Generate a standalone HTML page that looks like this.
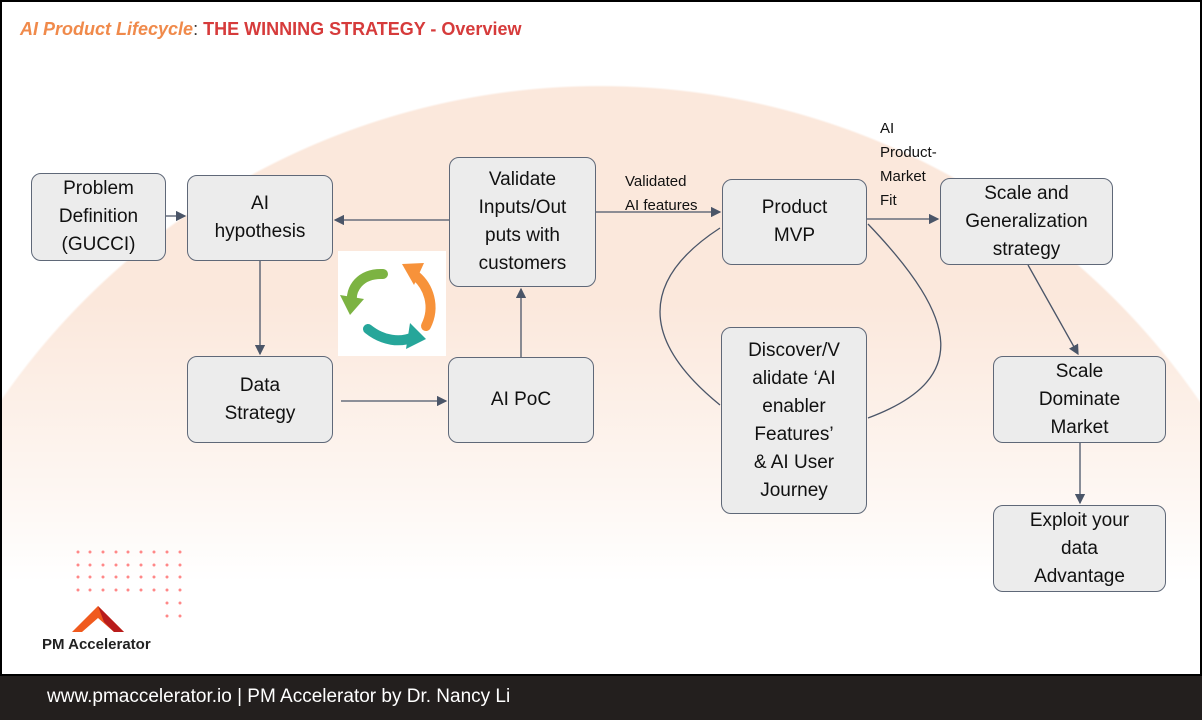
<!DOCTYPE html>
<html><head><meta charset="utf-8"><style>
html,body{margin:0;width:1202px;height:720px;overflow:hidden;background:#000;font-family:"Liberation Sans","Noto Sans CJK SC",sans-serif}
#f{position:absolute;left:2px;top:2px;width:1198px;height:672px;overflow:hidden;
background:
linear-gradient(rgba(255,255,255,0) 0px,rgba(255,255,255,0) 300px,rgba(255,255,255,0.6) 480px,#fff 580px),
radial-gradient(circle 729px at 598px 812px,#fbe8dc 99.7%,#fff 100%)}
.b{position:absolute;box-sizing:border-box;background:#ececec;border:1.5px solid #5f6878;border-radius:10px;display:flex;align-items:center;justify-content:center;text-align:center;font-size:19px;line-height:28px;color:#111}
.t{position:absolute;font-size:15px;line-height:24px;color:#111}
#ft{position:absolute;left:0;top:676px;width:1202px;height:44px;background:#231f1e;color:#fff;font-size:19px;line-height:42px;padding-left:47px;box-sizing:border-box}
</style></head><body>
<div id="f">
<div style="position:absolute;left:18px;top:17px;font-size:18px;font-weight:bold;color:#d63b3b"><i style="color:#f08a4b">AI Product Lifecycle</i><span style="color:#333;font-weight:normal">:</span> THE WINNING STRATEGY - Overview</div>
</div>
<svg style="position:absolute;left:0;top:0" width="1202" height="676">
<defs><marker id="a" markerWidth="8" markerHeight="8" refX="7" refY="4" orient="auto"><path d="M0,0L8,4L0,8z" fill="#4a5568"/></marker></defs>
<g stroke="#4a5568" stroke-width="1.3" fill="none">
<line x1="166" y1="216" x2="185" y2="216" marker-end="url(#a)"/>
<line x1="449" y1="220" x2="335" y2="220" marker-end="url(#a)"/>
<line x1="596" y1="212" x2="720" y2="212" marker-end="url(#a)"/>
<line x1="867" y1="219" x2="938" y2="219" marker-end="url(#a)"/>
<line x1="260" y1="261" x2="260" y2="354" marker-end="url(#a)"/>
<line x1="341" y1="401" x2="446" y2="401" marker-end="url(#a)"/>
<line x1="521" y1="357" x2="521" y2="289" marker-end="url(#a)"/>
<line x1="1028" y1="265" x2="1078" y2="354" marker-end="url(#a)"/>
<line x1="1080" y1="443" x2="1080" y2="503" marker-end="url(#a)"/>
<path d="M720,228 C640,280 640,340 720,405"/>
<path d="M868,224 C960,320 970,380 868,418"/>
</g>
<g transform="translate(338,251)">
<rect width="108" height="105" fill="#fff"/>
<path d="M45,23 C22,22 12,38 14,52" stroke="#7cb342" stroke-width="10" fill="none" stroke-linecap="round"/><path d="M2,44 L26,48 L12,64z" fill="#7cb342"/>
<path d="M88,75 C98,55 90,35 78,25" stroke="#f7923a" stroke-width="10" fill="none" stroke-linecap="round"/><path d="M64,13 L86,12 L76,34z" fill="#f7923a"/>
<path d="M30,78 C45,90 62,92 76,86" stroke="#26a69a" stroke-width="10" fill="none" stroke-linecap="round"/><path d="M72,72 L88,88 L68,98z" fill="#26a69a"/>
</g>
<g fill="#f88">
<circle cx="78" cy="552" r="1.5"/><circle cx="90" cy="552" r="1.5"/><circle cx="103" cy="552" r="1.5"/><circle cx="116" cy="552" r="1.5"/><circle cx="128" cy="552" r="1.5"/><circle cx="141" cy="552" r="1.5"/><circle cx="154" cy="552" r="1.5"/><circle cx="167" cy="552" r="1.5"/><circle cx="180" cy="552" r="1.5"/>
<circle cx="78" cy="565" r="1.5"/><circle cx="90" cy="565" r="1.5"/><circle cx="103" cy="565" r="1.5"/><circle cx="116" cy="565" r="1.5"/><circle cx="128" cy="565" r="1.5"/><circle cx="141" cy="565" r="1.5"/><circle cx="154" cy="565" r="1.5"/><circle cx="167" cy="565" r="1.5"/><circle cx="180" cy="565" r="1.5"/>
<circle cx="78" cy="577" r="1.5"/><circle cx="90" cy="577" r="1.5"/><circle cx="103" cy="577" r="1.5"/><circle cx="116" cy="577" r="1.5"/><circle cx="128" cy="577" r="1.5"/><circle cx="141" cy="577" r="1.5"/><circle cx="154" cy="577" r="1.5"/><circle cx="167" cy="577" r="1.5"/><circle cx="180" cy="577" r="1.5"/>
<circle cx="78" cy="590" r="1.5"/><circle cx="90" cy="590" r="1.5"/><circle cx="103" cy="590" r="1.5"/><circle cx="116" cy="590" r="1.5"/><circle cx="128" cy="590" r="1.5"/><circle cx="141" cy="590" r="1.5"/><circle cx="154" cy="590" r="1.5"/><circle cx="167" cy="590" r="1.5"/><circle cx="180" cy="590" r="1.5"/>
<circle cx="167" cy="603" r="1.5"/><circle cx="180" cy="603" r="1.5"/><circle cx="167" cy="616" r="1.5"/><circle cx="180" cy="616" r="1.5"/>
</g>
<path d="M72,632 L98,606 L124,632 L114,632 L98,618 L82,632z" fill="#f05a1e"/>
<path d="M98,606 L124,632 L114,632 L104,622z" fill="#b81c1c"/>
<text x="42" y="649" font-family="Liberation Sans,sans-serif" font-size="15" font-weight="bold" fill="#222">PM Accelerator</text>
</svg>
<div class="b" style="left:31px;top:173px;width:135px;height:88px">Problem<br>Definition<br>(GUCCI)</div>
<div class="b" style="left:187px;top:175px;width:146px;height:86px">AI<br>hypothesis</div>
<div class="b" style="left:449px;top:157px;width:147px;height:130px">Validate<br>Inputs/Out<br>puts with<br>customers</div>
<div class="b" style="left:722px;top:179px;width:145px;height:86px">Product<br>MVP</div>
<div class="b" style="left:940px;top:178px;width:173px;height:87px">Scale and<br>Generalization<br>strategy</div>
<div class="b" style="left:187px;top:356px;width:146px;height:87px">Data<br>Strategy</div>
<div class="b" style="left:448px;top:357px;width:146px;height:86px">AI PoC</div>
<div class="b" style="left:721px;top:327px;width:146px;height:187px">Discover/V<br>alidate ‘AI<br>enabler<br>Features’<br>&amp; AI User<br>Journey</div>
<div class="b" style="left:993px;top:356px;width:173px;height:87px">Scale<br>Dominate<br>Market</div>
<div class="b" style="left:993px;top:505px;width:173px;height:87px">Exploit your<br>data<br>Advantage</div>
<div class="t" style="left:625px;top:170px">Validated<br>AI features</div>
<div class="t" style="left:880px;top:117px">AI<br>Product-<br>Market<br>Fit</div>
<div id="ft">www.pmaccelerator.io | PM Accelerator by Dr. Nancy Li</div>
</body></html>
